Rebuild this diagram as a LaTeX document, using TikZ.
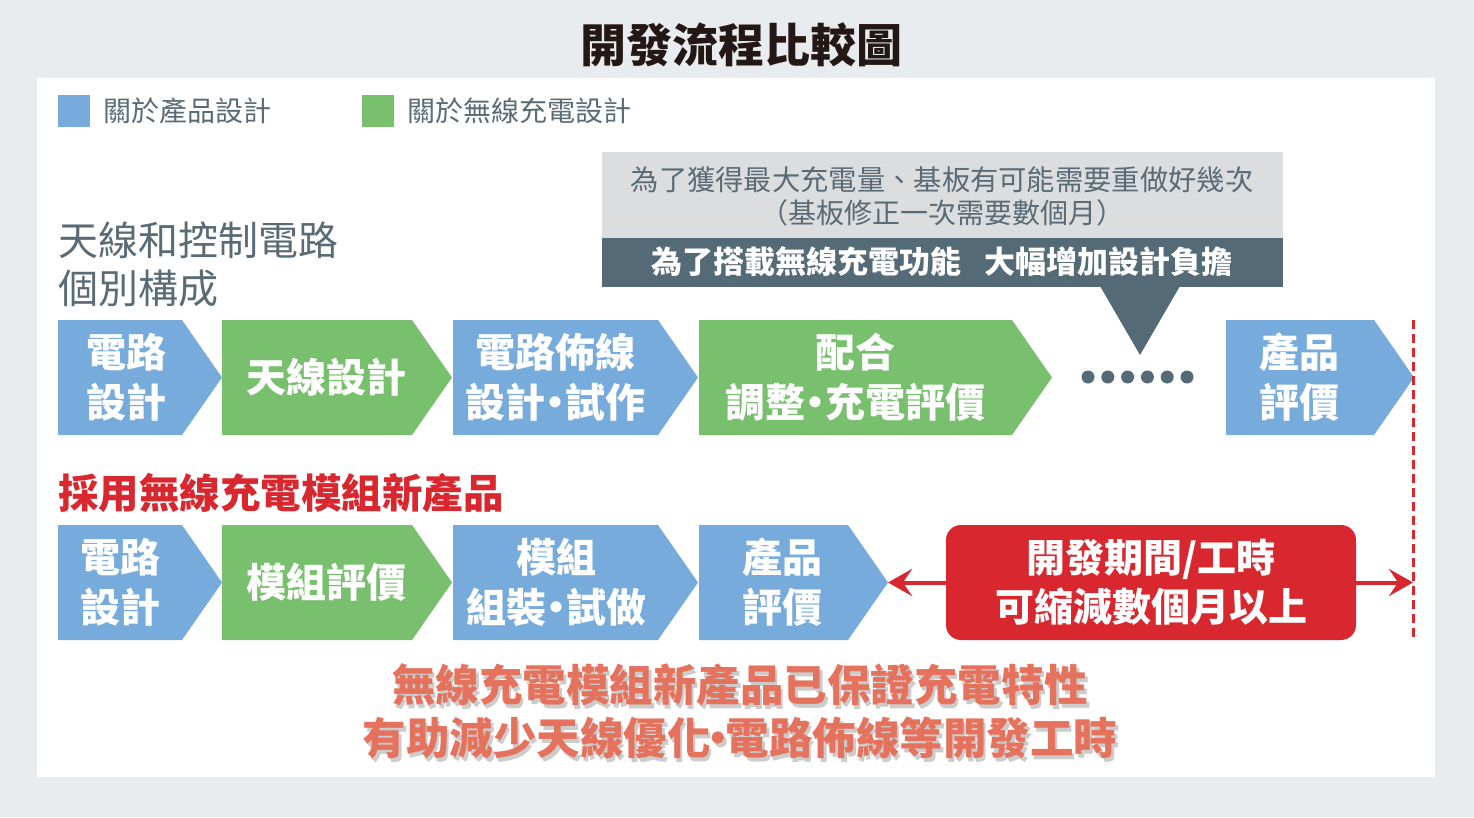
\documentclass[tikz,border=0pt]{standalone}
\usepackage{fontspec}
\setmainfont{Noto Sans CJK TC}
\usetikzlibrary{arrows.meta,calc}
\definecolor{bgc}{HTML}{E9ECEF}
\definecolor{cblue}{HTML}{76ABDC}
\definecolor{cgreen}{HTML}{79C06E}
\definecolor{slate}{HTML}{546A76}
\definecolor{lgray}{HTML}{DCDDDF}
\definecolor{cred}{HTML}{D8272E}
\definecolor{salmon}{HTML}{E5725D}
\definecolor{tgray}{HTML}{5A6B76}
\definecolor{ttl}{HTML}{231815}
\newcommand\mydot{\kern-0.25em‧\kern-0.25em}
\newcommand\bigdot{\kern-0.33em‧\kern-0.33em}
\newcommand\chev[6]{%
  \fill[#5] (#1,#3) -- (#2,#3) -- ({#2+40},{(#3+#4)/2}) -- (#2,#4) -- (#1,#4) -- cycle;
  \coordinate (#6) at ({#2+40},{(#3+#4)/2});}
\begin{document}
\begin{tikzpicture}[x=1pt,y=-1pt,
  boxtxt/.style={text=white,font=\fontsize{40}{50}\selectfont\bfseries,align=center,inner sep=0pt},
  legtxt/.style={text=tgray,font=\fontsize{28}{32}\selectfont,anchor=west,inner sep=0pt},
  redarrow/.style={draw=cred,line width=4pt,-{Stealth[length=24pt,width=27pt,inset=9pt]}},
  bottxt/.style={text=salmon,font=\fontsize{43.5}{50}\selectfont\bfseries,inner sep=0pt},
  shadowtxt/.style={text=black,opacity=0.2,font=\fontsize{43.5}{50}\selectfont\bfseries,inner sep=0pt}]
\useasboundingbox (0,0) rectangle (1474,817);
\fill[bgc] (0,0) rectangle (1474,817);
\fill[white] (37,78) rectangle (1435,777);
% title
\node[text=ttl,font=\fontsize{46}{50}\selectfont\bfseries,inner sep=0pt] (title) at (741,45) {開發流程比較圖};
% legend
\fill[cblue] (58,95) rectangle (90,127);
\node[legtxt] (leg1) at (103,111) {關於產品設計};
\fill[cgreen] (362,95) rectangle (394,127);
\node[legtxt] (leg2) at (407,111) {關於無線充電設計};
% callout
\fill[lgray] (602,152) rectangle (1283,238);
\fill[slate] (602,238) rectangle (1283,287);
\fill[slate] (1100,286) -- (1180,286) -- (1140,355) -- cycle;
\node[text=tgray,font=\fontsize{28.3}{32}\selectfont,inner sep=0pt] (c1) at (942,180) {為了獲得最大充電量、基板有可能需要重做好幾次};
\node[text=tgray,font=\fontsize{28}{32}\selectfont,inner sep=0pt] (c2) at (942,213) {（基板修正一次需要數個月）};
\node[text=white,font=\fontsize{31}{34}\selectfont\bfseries,inner sep=0pt] (c3) at (942,262) {為了搭載無線充電功能\hspace{0.75em}大幅增加設計負擔};
% left label
\node[text=tgray,font=\fontsize{40}{48}\selectfont,align=left,anchor=west,inner sep=0pt] (lab1) at (58,264) {天線和控制電路\\個別構成};
% row 1
\chev{58}{182}{320}{435}{cblue}{r1a}
\node[boxtxt] (t1a) at (126,377) {電路\\設計};
\chev{222}{412}{320}{435}{cgreen}{r1b}
\node[boxtxt] (t1b) at (326,377) {天線設計};
\chev{453}{658}{320}{435}{cblue}{r1c}
\node[boxtxt] (t1c) at (555,377) {電路佈線\\設計\mydot 試作};
\chev{699}{1012}{320}{435}{cgreen}{r1d}
\node[boxtxt] (t1d) at (855,377) {配合\\調整\mydot 充電評價};
\foreach \i in {0,...,5} \fill[slate] ({1088+19.8*\i},377) circle (6.5);
\chev{1226}{1374}{320}{435}{cblue}{r1e}
\node[boxtxt] (t1e) at (1299,377) {產品\\評價};
% red heading
\node[text=cred,font=\fontsize{40.5}{48}\selectfont\bfseries,anchor=west,inner sep=0pt] (lab2) at (58,493) {採用無線充電模組新產品};
% row 2
\chev{58}{182}{525}{640}{cblue}{r2a}
\node[boxtxt] (t2a) at (120,582.5) {電路\\設計};
\chev{222}{412}{525}{640}{cgreen}{r2b}
\node[boxtxt] (t2b) at (326,582.5) {模組評價};
\chev{453}{658}{525}{640}{cblue}{r2c}
\node[boxtxt] (t2c) at (556,582.5) {模組\\組裝\mydot 試做};
\chev{699}{848}{525}{640}{cblue}{r2d}
\node[boxtxt] (t2d) at (782,582.5) {產品\\評價};
% red box
\node[fill=cred,rounded corners=15pt,minimum width=410pt,minimum height=115pt,inner sep=0pt,text=white,font=\fontsize{39}{49}\selectfont\bfseries,align=center] (redbox) at (1151,582.5) {開發期間/工時\\可縮減數個月以上};
\coordinate (tipR) at (1413,582.5);
\coordinate (dtop) at (1413,320);
\coordinate (dbot) at (1413,640);
\draw[cred,line width=3pt,dash pattern=on 9pt off 5pt] (dtop) -- (dbot);
\draw[redarrow] (redbox.west) -- (r2d);
\draw[redarrow] (redbox.east) -- (tipR);
% bottom text
\node[shadowtxt] (s1) at (742.5,688.5) {無線充電模組新產品已保證充電特性};
\node[shadowtxt] (s2) at (742.5,741.5) {有助減少天線優化\bigdot 電路佈線等開發工時};
\node[bottxt] (b1) at (740,685) {無線充電模組新產品已保證充電特性};
\node[bottxt] (b2) at (740,738) {有助減少天線優化\bigdot 電路佈線等開發工時};
\end{tikzpicture}
\end{document}
